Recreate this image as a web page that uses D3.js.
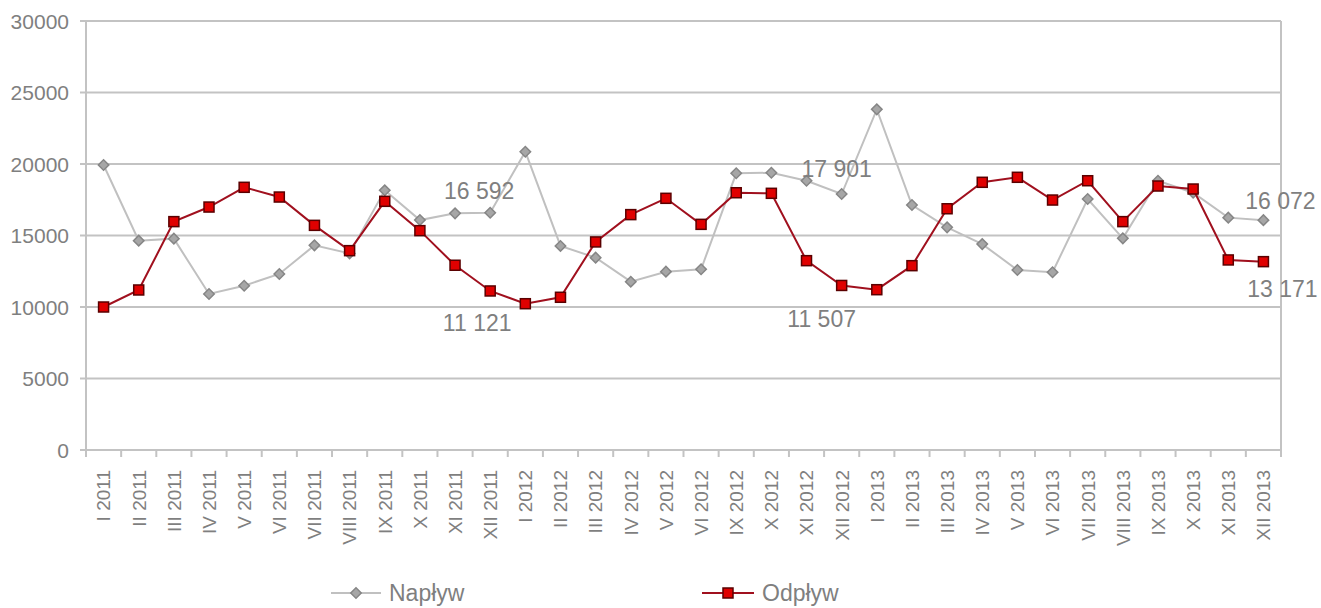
<!DOCTYPE html>
<html>
<head>
<meta charset="utf-8">
<script src="https://cdn.jsdelivr.net/npm/d3@7"></script>
<style>
  body { margin: 0; background: #fff; }
  text { font-family: "Liberation Sans", Arial, sans-serif; fill: #7f7f7f; }
</style>
</head>
<body>
<div id="chart-container" style="width:1321px;height:608px"></div>
<script>
const months = [
  'I 2011', 'II 2011', 'III 2011', 'IV 2011', 'V 2011', 'VI 2011', 'VII 2011', 'VIII 2011', 'IX 2011', 'X 2011', 'XI 2011', 'XII 2011',
  'I 2012', 'II 2012', 'III 2012', 'IV 2012', 'V 2012', 'VI 2012', 'IX 2012', 'X 2012', 'XI 2012', 'XII 2012',
  'I 2013', 'II 2013', 'III 2013', 'IV 2013', 'V 2013', 'VI 2013', 'VII 2013', 'VIII 2013', 'IX 2013', 'X 2013', 'XI 2013', 'XII 2013'
]

const naplyw = [
  19930, 14640, 14780, 10910, 11490, 12310, 14310, 13750, 18160, 16080, 16550, 16592,
  20860, 14270, 13450, 11770, 12470, 12640, 19350, 19390, 18830, 17901,
  23820, 17130, 15570, 14400, 12590, 12430, 17550, 14800, 18830, 17990, 16250, 16072
]

const odplyw = [
  10000, 11190, 15970, 16990, 18370, 17690, 15710, 13940, 17390, 15340, 12920, 11121,
  10230, 10680, 14550, 16460, 17600, 15780, 17990, 17950, 13240, 11507,
  11210, 12890, 16870, 18720, 19070, 17480, 18830, 15970, 18460, 18250, 13290, 13171
]

const yTicks = [0, 5000, 10000, 15000, 20000, 25000, 30000]

// year-end labels: [index, series, dx, dy]
const callouts = [
  [11, 'naplyw', -11, -22], [11, 'odplyw', -13, 32],
  [21, 'naplyw', -5, -25], [21, 'odplyw', -20, 33],
  [33, 'naplyw', 17, -19], [33, 'odplyw', 19, 27]
]

const margin = { top: 21, right: 40, bottom: 158, left: 86 }
const width = 1321 - margin.left - margin.right
const height = 608 - margin.top - margin.bottom

const x = d3.scaleBand()
  .domain(months)
  .range([0, width])

const y = d3.scaleLinear()
  .domain([0, 30000])
  .range([height, 0])

const svg = d3.select('#chart-container').append('svg')
  .attr('width', 1321)
  .attr('height', 608)
  .append('g')
  .attr('transform', 'translate(' + margin.left + ',' + margin.top + ')')

// gridlines
svg.append('g')
  .selectAll('line')
  .data(yTicks)
  .join('line')
  .attr('x1', -6)
  .attr('x2', width)
  .attr('y1', d => y(d))
  .attr('y2', d => y(d))
  .attr('stroke', '#c3c3c3')
  .attr('stroke-width', 2)

// left and right frame lines
svg.append('line')
  .attr('x1', 0).attr('x2', 0)
  .attr('y1', 0).attr('y2', height + 7)
  .attr('stroke', '#c3c3c3').attr('stroke-width', 2)
svg.append('line')
  .attr('x1', width).attr('x2', width)
  .attr('y1', 0).attr('y2', height + 7)
  .attr('stroke', '#c3c3c3').attr('stroke-width', 2)

// y labels
svg.append('g')
  .selectAll('text')
  .data(yTicks)
  .join('text')
  .attr('x', -17)
  .attr('y', d => y(d))
  .attr('dy', '0.36em')
  .attr('text-anchor', 'end')
  .style('font-size', '21px')
  .text(d => d)

// x ticks
svg.append('g')
  .selectAll('line')
  .data(months)
  .join('line')
  .attr('x1', d => x(d))
  .attr('x2', d => x(d))
  .attr('y1', height)
  .attr('y2', height + 7)
  .attr('stroke', '#c3c3c3')
  .attr('stroke-width', 2)

// x labels
svg.append('g')
  .selectAll('text')
  .data(months)
  .join('text')
  .attr('transform', d => 'translate(' + (x(d) + x.bandwidth() / 2) + ',' + (height + 20) + ') rotate(-90)')
  .attr('dy', '0.36em')
  .attr('text-anchor', 'end')
  .style('font-size', '19px')
  .text(d => d)

const line = d3.line()
  .x((d, i) => x(months[i]) + x.bandwidth() / 2)
  .y(d => y(d))

svg.append('path')
  .datum(naplyw)
  .attr('d', line)
  .attr('fill', 'none')
  .attr('stroke', '#c0c0c0')
  .attr('stroke-width', 2)

svg.append('g')
  .selectAll('path')
  .data(naplyw)
  .join('path')
  .attr('d', d3.symbol(d3.symbolSquare, 55))
  .attr('transform', (d, i) => 'translate(' + (x(months[i]) + x.bandwidth() / 2) + ',' + y(d) + ') rotate(45)')
  .attr('fill', '#a6a6a6')
  .attr('stroke', '#868686')
  .attr('stroke-width', 1.5)

svg.append('path')
  .datum(odplyw)
  .attr('d', line)
  .attr('fill', 'none')
  .attr('stroke', '#a0101e')
  .attr('stroke-width', 2)

svg.append('g')
  .selectAll('rect')
  .data(odplyw)
  .join('rect')
  .attr('x', (d, i) => x(months[i]) + x.bandwidth() / 2 - 5)
  .attr('y', d => y(d) - 5)
  .attr('width', 10)
  .attr('height', 10)
  .attr('fill', '#e00000')
  .attr('stroke', '#5a0000')
  .attr('stroke-width', 1.5)

// value labels
const fmt = v => d3.format(',')(v).replace(',', ' ')
svg.append('g')
  .selectAll('text')
  .data(callouts)
  .join('text')
  .attr('x', d => x(months[d[0]]) + x.bandwidth() / 2 + d[2])
  .attr('y', d => y((d[1] === 'naplyw' ? naplyw : odplyw)[d[0]]) + d[3])
  .attr('dy', '0.36em')
  .attr('text-anchor', 'middle')
  .style('font-size', '23px')
  .text(d => fmt((d[1] === 'naplyw' ? naplyw : odplyw)[d[0]]))

// legend
const legend = svg.append('g')
  .attr('transform', 'translate(0,' + (593 - margin.top) + ')')

const l1 = legend.append('g').attr('transform', 'translate(' + (331 - margin.left) + ',0)')
l1.append('line').attr('x1', 0).attr('x2', 50).attr('stroke', '#c0c0c0').attr('stroke-width', 2)
l1.append('path')
  .attr('d', d3.symbol(d3.symbolSquare, 55))
  .attr('transform', 'translate(25,0) rotate(45)')
  .attr('fill', '#a6a6a6').attr('stroke', '#868686').attr('stroke-width', 1.5)
l1.append('text').attr('x', 58).attr('dy', '0.36em').style('font-size', '23px').text('Napływ')

const l2 = legend.append('g').attr('transform', 'translate(' + (702 - margin.left) + ',0)')
l2.append('line').attr('x1', 0).attr('x2', 52).attr('stroke', '#a0101e').attr('stroke-width', 2)
l2.append('rect').attr('x', 21).attr('y', -5).attr('width', 10).attr('height', 10)
  .attr('fill', '#e00000').attr('stroke', '#5a0000').attr('stroke-width', 1.5)
l2.append('text').attr('x', 60).attr('dy', '0.36em').style('font-size', '23px').text('Odpływ')
</script>
</body>
</html>
